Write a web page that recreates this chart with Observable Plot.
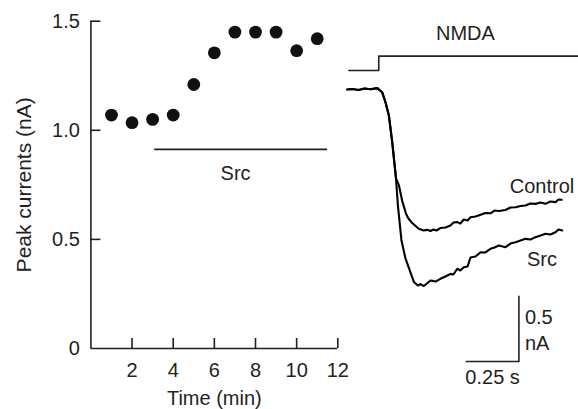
<!DOCTYPE html>
<html><head><meta charset="utf-8">
<script src="https://cdn.jsdelivr.net/npm/d3@7"></script>
<script src="https://cdn.jsdelivr.net/npm/@observablehq/plot@0.6"></script>
<style>
html,body{margin:0;padding:0;background:#fff;}
#chart{position:relative;width:578px;height:409px;overflow:hidden;background:#fff;}
#chart svg{position:absolute;left:0;top:0;}
</style></head><body><div id="chart"></div>
<script>
// ---------- Left panel: peak currents over time ----------
const minutes = [1, 2, 3, 4, 5, 6, 7, 8, 9, 10, 11];
const peakCurrents = [1.07, 1.035, 1.05, 1.07, 1.21, 1.355, 1.45, 1.45, 1.45, 1.365, 1.42];
const timeTicks = [2, 4, 6, 8, 10, 12];
const currentTicks = [0, 0.5, 1.0, 1.5];
const currentTickLabels = ["0", "0.5", "1.0", "1.5"];
const srcPeriod = [3.1, 11.5];
const srcLevel = [0.913];
const srcLabelPos = [7.03, 0.80];

// ---------- Right panel: current traces (t in s, I in nA) ----------
const controlT = [0.0, 0.025, 0.054, 0.082, 0.111, 0.143, 0.166, 0.182, 0.198, 0.214, 0.232,
  0.246, 0.261, 0.279, 0.291, 0.309, 0.340, 0.363, 0.380, 0.396, 0.410, 0.424, 0.443, 0.467,
  0.491, 0.505, 0.523, 0.538, 0.554, 0.572, 0.586, 0.610, 0.634, 0.657, 0.681, 0.700, 0.721,
  0.752, 0.776, 0.800, 0.824, 0.847, 0.871, 0.895, 0.919, 0.942, 0.966, 0.990, 1.004, 1.019];
const controlI = [-0.005, -0.002, -0.009, 0.002, -0.004, 0.005, -0.026, -0.103, -0.204, -0.409, -0.687,
  -0.740, -0.855, -0.955, -0.993, -1.028, -1.072, -1.085, -1.080, -1.089, -1.077, -1.085, -1.066, -1.062,
  -1.047, -1.024, -1.021, -1.031, -1.001, -1.008, -0.983, -0.978, -0.965, -0.951, -0.953, -0.932, -0.936,
  -0.928, -0.909, -0.907, -0.897, -0.894, -0.878, -0.881, -0.871, -0.881, -0.863, -0.868, -0.848, -0.850];
const srcT = [0.0, 0.025, 0.054, 0.082, 0.111, 0.143, 0.166, 0.182, 0.198, 0.214, 0.232,
  0.241, 0.258, 0.277, 0.301, 0.317, 0.336, 0.348, 0.364, 0.382, 0.396, 0.420, 0.443, 0.467,
  0.491, 0.505, 0.523, 0.538, 0.554, 0.572, 0.586, 0.610, 0.634, 0.657, 0.681, 0.700, 0.721,
  0.752, 0.776, 0.800, 0.824, 0.847, 0.871, 0.895, 0.919, 0.942, 0.966, 0.990, 1.004, 1.022];
const srcI = [-0.005, -0.002, -0.009, 0.002, -0.004, 0.005, -0.026, -0.103, -0.204, -0.409, -0.687,
  -0.894, -1.162, -1.299, -1.407, -1.479, -1.506, -1.495, -1.510, -1.487, -1.468, -1.476, -1.455, -1.437,
  -1.417, -1.422, -1.378, -1.391, -1.366, -1.361, -1.292, -1.284, -1.251, -1.253, -1.225, -1.215, -1.200,
  -1.213, -1.185, -1.175, -1.162, -1.149, -1.154, -1.136, -1.123, -1.110, -1.116, -1.098, -1.077, -1.085];
const nmdaT = [0.008, 0.150, 1.10];
const nmdaLevel = [0.14, 0.25, 0.25];
const nmdaLabelPos = [0.562, 0.419];
const traceLabels = ["Control", "Src"];
const traceLabelT = [0.926, 0.926];
const traceLabelI = [-0.747, -1.305];
const scaleBarT = [0.566, 0.816, 0.816];
const scaleBarI = [-2.088, -2.088, -1.588];
const scaleBarLabels = ["0.5\nnA", "0.25 s"];

const FONT = "'Liberation Sans', Arial, Helvetica, sans-serif";
const INK = "#231f20";
const W = 578, H = 409;
const mL = 90.4, mR = 240.7, mT = 20.7, mB = 61;
const frameW = W - mL - mR, frameH = H - mT - mB;

const left = Plot.plot({
  width: W, height: H,
  marginLeft: mL, marginRight: mR, marginTop: mT, marginBottom: mB,
  style: {fontFamily: FONT, fontSize: "20px", color: INK, background: "#fff"},
  x: {domain: [0, 12], axis: null},
  y: {domain: [0, 1.5], axis: null},
  marks: [
    Plot.ruleX([0], {stroke: INK, strokeWidth: 1.6}),
    Plot.ruleY([0], {stroke: INK, strokeWidth: 1.6}),
    Plot.ruleX(timeTicks, {x: d => d, insetTop: frameH - 10, stroke: INK, strokeWidth: 1.6}),
    Plot.ruleY(currentTicks.filter(d => d > 0), {y: d => d, insetRight: frameW - 10, stroke: INK, strokeWidth: 1.6}),
    Plot.axisX(timeTicks, {tickSize: 0, tickPadding: 14, fontSize: 20, fill: INK, label: null, tickFormat: d => String(d)}),
    Plot.axisY(currentTicks, {tickSize: 0, tickPadding: 11, fontSize: 20, fill: INK, label: null,
      tickFormat: d => currentTickLabels[currentTicks.indexOf(d)]}),
    Plot.text(["Time (min)"], {frameAnchor: "bottom", dy: 50, textAnchor: "middle", fontSize: 20, fill: INK, lineAnchor: "middle"}),
    Plot.text(["Peak currents (nA)"], {frameAnchor: "left", dx: -67, dy: 0, rotate: -90, textAnchor: "middle",
      fontSize: 21, fill: INK, lineAnchor: "middle"}),
    Plot.ruleY(srcLevel, {x1: srcPeriod[0], x2: srcPeriod[1], stroke: INK, strokeWidth: 1.8}),
    Plot.text(["Src"], {x: srcLabelPos[0], y: srcLabelPos[1], fontSize: 20, fill: INK}),
    Plot.dot(minutes, {x: minutes, y: peakCurrents, r: 6.4, fill: "#111", stroke: "none"})
  ]
});

const right = Plot.plot({
  width: W, height: H,
  style: {fontFamily: FONT, fontSize: "20px", color: INK, background: "transparent"},
  x: {domain: [0, 1], range: [346.7, 557.1], axis: null},
  y: {domain: [0, -1], range: [88.3, 218.9], axis: null},
  marks: [
    Plot.line(nmdaT, {x: nmdaT, y: nmdaLevel, curve: "step-after", stroke: INK, strokeWidth: 1.6}),
    Plot.text(["NMDA"], {x: nmdaLabelPos[0], y: nmdaLabelPos[1], fontSize: 20, fill: INK}),
    Plot.line(controlT, {x: controlT, y: controlI, stroke: "#000", strokeWidth: 2.1, curve: "linear"}),
    Plot.line(srcT, {x: srcT, y: srcI, stroke: "#000", strokeWidth: 2.1, curve: "linear"}),
    Plot.text(traceLabels, {x: traceLabelT, y: traceLabelI, text: d => d, fontSize: 20, fill: INK}),
    Plot.line(scaleBarT, {x: scaleBarT, y: scaleBarI, stroke: INK, strokeWidth: 1.6}),
    Plot.text([scaleBarLabels[0]], {x: scaleBarT[2], y: (scaleBarI[1] + scaleBarI[2]) / 2, dx: 6, textAnchor: "start",
      lineHeight: 1.28, fontSize: 20, fill: INK}),
    Plot.text([scaleBarLabels[1]], {x: (scaleBarT[0] + scaleBarT[1]) / 2, y: scaleBarI[0], dy: 8.8, lineAnchor: "top",
      fontSize: 20, fill: INK})
  ]
});

const chart = document.getElementById("chart");
chart.appendChild(left);
chart.appendChild(right);
</script>
</body></html>
